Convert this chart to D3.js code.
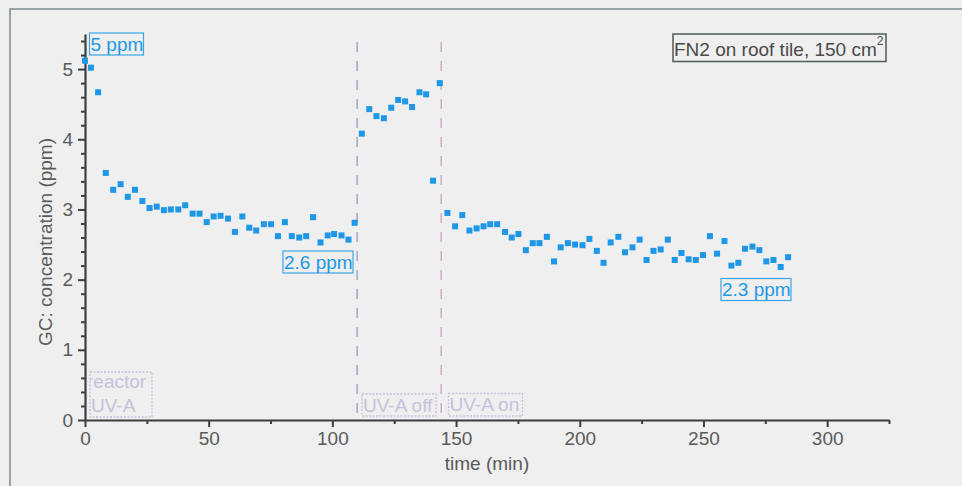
<!DOCTYPE html>
<html><head><meta charset="utf-8">
<script src="https://cdn.jsdelivr.net/npm/d3@7"></script>
<style>
html,body{margin:0;padding:0;background:#efefef;}
svg{display:block;font-family:"Liberation Sans",Arial,sans-serif;}
</style></head>
<body>
<svg id="c" width="962" height="486"></svg>
<script>
// ---- data ----
const timeUvOn1 = [0,2.4,5.3,8.4,11.4,14.4,17.3,20.2,23.2,26.1,29.0,31.9,34.7,37.7,40.5,43.5,46.3,49.2,52.0,54.8,57.8,60.6,63.6,66.4,69.2,72.3,75.2,78.0,80.8,83.6,86.6,89.4,92.2,95.2,98.1,100.7,103.7,106.5,109.0];
const concUvOn1 = [5.12,5.02,4.67,3.52,3.28,3.36,3.18,3.28,3.12,3.02,3.04,2.99,3.00,3.00,3.06,2.94,2.94,2.82,2.90,2.91,2.87,2.68,2.90,2.74,2.70,2.79,2.79,2.62,2.82,2.62,2.60,2.62,2.89,2.53,2.63,2.65,2.63,2.57,2.81];
const timeUvOff = [111.9,114.9,117.8,120.8,123.8,126.6,129.4,132.2,135.2,137.9,140.7,143.4];
const concUvOff = [4.08,4.43,4.33,4.30,4.45,4.56,4.54,4.46,4.67,4.64,3.41,4.80];
const timeUvOn2 = [146.5,149.6,152.5,155.4,158.3,161.1,163.8,166.6,169.8,172.5,175.2,178.2,181.0,183.7,186.7,189.6,192.3,195.2,198.1,201.1,203.9,206.9,209.6,212.5,215.6,218.3,221.3,224.2,227.0,229.8,232.7,235.6,238.4,241.1,244.0,246.9,249.8,252.6,255.5,258.5,261.3,264.1,266.8,269.8,272.6,275.4,278.3,281.2,284.2];
const concUvOn2 = [2.95,2.76,2.92,2.70,2.73,2.76,2.79,2.79,2.68,2.60,2.65,2.42,2.52,2.52,2.61,2.26,2.46,2.52,2.50,2.49,2.58,2.41,2.24,2.53,2.61,2.39,2.46,2.57,2.28,2.41,2.43,2.57,2.28,2.38,2.29,2.28,2.35,2.62,2.37,2.55,2.20,2.24,2.44,2.47,2.42,2.26,2.28,2.18,2.32];
const switchTimes = [110, 144];
const xTicks = [0,50,100,150,200,250,300];
const yTicks = [0,1,2,3,4,5];
const xLabel = "time (min)";
const yLabel = "GC: concentration (ppm)";
const levelLabels = ["5 ppm","2.6 ppm","2.3 ppm"];
const phaseLabels = [["reactor","UV-A"],["UV-A off"],["UV-A on"]];
const titleText = "FN2 on roof tile, 150 cm";

// ---- build ----
const svg = d3.select("#c");
const x = d3.scaleLinear().domain([0,325]).range([85,889]);
const y = d3.scaleLinear().domain([0,5.5]).range([420,34]);
const axisCol = "#3a3f3f", labCol = "#5a5a5a", blue = "#1e98e6", phaseCol = "#c4c2dc";
const fs = 19;

// outer frame (top + left)
svg.append("path").attr("d","M10,486 L10,9 L962,9").attr("fill","none").attr("stroke","#7f8c8c").attr("stroke-width",1.5);

// minor ticks
const xMinor = d3.range(25,326,50);
const yMinor = d3.range(0,5.5,0.2).map(v=>+v.toFixed(1)).filter(v=>Math.abs(v-Math.round(v))>1e-6);
svg.append("g").attr("transform","translate(0,420)")
  .call(d3.axisBottom(x).tickValues(xMinor).tickSize(4).tickSizeOuter(0).tickFormat(""))
  .call(g=>g.select(".domain").remove())
  .call(g=>g.selectAll("line").attr("stroke",axisCol).attr("stroke-width",2));
svg.append("g").attr("transform","translate(85,0)")
  .call(d3.axisLeft(y).tickValues(yMinor).tickSize(4).tickSizeOuter(0).tickFormat(""))
  .call(g=>g.select(".domain").remove())
  .call(g=>g.selectAll("line").attr("stroke",axisCol).attr("stroke-width",2));

// major axes
const gx = svg.append("g").attr("transform","translate(0,420)")
  .call(d3.axisBottom(x).tickValues(xTicks).tickFormat(d3.format("d")).tickSize(7).tickSizeOuter(0).tickPadding(5));
const gy = svg.append("g").attr("transform","translate(85,0)")
  .call(d3.axisLeft(y).tickValues(yTicks).tickFormat(d3.format("d")).tickSize(7).tickSizeOuter(0).tickPadding(5));
[gx,gy].forEach(g=>{
  g.select(".domain").attr("stroke",axisCol).attr("stroke-width",2.2);
  g.selectAll(".tick line").attr("stroke",axisCol).attr("stroke-width",2);
  g.selectAll(".tick text").attr("fill",labCol).attr("font-size",fs).attr("font-family","Liberation Sans, Arial, sans-serif");
});

// axis titles
svg.append("text").attr("x",(x.range()[0]+x.range()[1])/2).attr("y",470).attr("text-anchor","middle")
  .attr("fill",labCol).attr("font-size",fs).text(xLabel);
svg.append("text").attr("transform","translate(52,242) rotate(-90)").attr("text-anchor","middle")
  .attr("fill",labCol).attr("font-size",fs).text(yLabel);

// switch lines
const swCols = ["#a9a3cf","#cfaacc"];
svg.selectAll(".sw").data(switchTimes).join("line")
  .attr("x1",d=>x(d)).attr("x2",d=>x(d)).attr("y1",42).attr("y2",419)
  .attr("stroke",(d,i)=>swCols[i]).attr("stroke-width",1.5).attr("stroke-dasharray","10,9");

// points
const pts = [];
[[timeUvOn1,concUvOn1],[timeUvOff,concUvOff],[timeUvOn2,concUvOn2]].forEach(([t,c])=>t.forEach((v,i)=>pts.push([v,c[i]])));
const ms = 6;
svg.selectAll(".pt").data(pts).join("rect")
  .attr("x",d=>x(d[0])-ms/2).attr("y",d=>y(d[1])-ms/2).attr("width",ms).attr("height",ms)
  .attr("fill",blue);

// level annotation boxes (blue)
const lvlPos = [[89.5,33,54,22],[283,251,70,22],[721,278.5,70,22]];
levelLabels.forEach((t,i)=>{
  const [bx,by,bw,bh] = lvlPos[i];
  svg.append("rect").attr("x",bx).attr("y",by).attr("width",bw).attr("height",bh)
    .attr("fill","none").attr("stroke","#3aa6ea").attr("stroke-width",1.2);
  svg.append("text").attr("x",bx+1).attr("y",by+17.5).attr("fill",blue).attr("font-size",fs).text(t);
});

// phase annotation boxes
const phPos = [[90,372,62,45],[362,394,74,22],[448.5,393.5,74,22.5]];
const defs = svg.append("defs");
phaseLabels.forEach((lines,i)=>{
  const [bx,by,bw,bh] = phPos[i];
  defs.append("clipPath").attr("id","ph"+i).append("rect").attr("x",bx).attr("y",by).attr("width",bw).attr("height",bh);
  svg.append("rect").attr("x",bx).attr("y",by).attr("width",bw).attr("height",bh)
    .attr("fill","none").attr("stroke",phaseCol).attr("stroke-width",1.3).attr("stroke-dasharray","2,1.5");
  const g = svg.append("g").attr("clip-path","url(#ph"+i+")");
  lines.forEach((ln,j)=>{
    g.append("text").attr("x",bx+(i===0&&j===0?-3:1)).attr("y",by+(lines.length>1?16+j*24:17.5))
      .attr("fill",phaseCol).attr("font-size",fs).text(ln);
  });
});

// title box
svg.append("rect").attr("x",673).attr("y",34).attr("width",213).attr("height",27.5)
  .attr("fill","none").attr("stroke","#4f5a5a").attr("stroke-width",1.5);
const tt = svg.append("text").attr("x",674).attr("y",56).attr("fill","#4a4a4a").attr("font-size",fs);
tt.append("tspan").text(titleText);
tt.append("tspan").attr("font-size",12).attr("dy",-11).text("2");
</script>
</body></html>
